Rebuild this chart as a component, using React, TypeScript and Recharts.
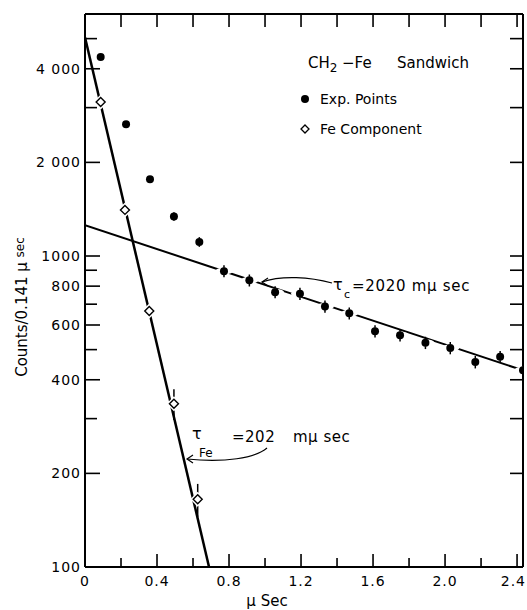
import React from 'react'
import { ComposedChart, Line, Scatter, XAxis, YAxis, ErrorBar } from 'recharts'

// experimental points (filled circles)
const expTime = [0.087, 0.228, 0.361, 0.494, 0.635, 0.772, 0.913, 1.056, 1.194, 1.333, 1.468, 1.611, 1.75, 1.891, 2.029, 2.168, 2.306, 2.433]
const expCounts = [4365, 2654, 1764, 1340, 1110, 894, 835, 765, 756, 688, 654, 573, 556, 526, 506, 456, 474, 429]
const expErr = [0, 50, 45, 42, 40, 40, 37, 34, 34, 31, 29, 26, 25, 24, 23, 21, 21, 19]

// Fe component (open diamonds)
const feTime = [0.087, 0.222, 0.357, 0.494, 0.626]
const feCounts = [3125, 1407, 665, 335, 165]
const feErr = [0, 0, 25, 38, 20]

// fitted lines
const feFitTime = [0, 0.689]
const feFitCounts = [5050, 100]
const cFitTime = [0, 2.433]
const cFitCounts = [1256, 429]

const xTicks = [0, 0.2, 0.4, 0.6, 0.8, 1.0, 1.2, 1.4, 1.6, 1.8, 2.0, 2.2, 2.4]
const xLabels = ['0', '', '0.4', '', '0.8', '', '1.2', '', '1.6', '', '2.0', '', '2.4']
const yTicks = [100, 200, 300, 400, 500, 600, 700, 800, 900, 1000, 2000, 3000, 4000, 5000]
const yLabels = ['100', '200', '', '400', '', '600', '', '800', '', '1000', '2 000', '', '4 000', '']

const W = 527
const H = 610
const LEFT = 85
const RIGHT = 523
const TOP = 14
const BOTTOM = 567
const FONT = '"DejaVu Sans", sans-serif'
const AX = { stroke: '#000', strokeWidth: 2 }
const TK = { stroke: '#000', strokeWidth: 1.6 }

const expData = expTime.map((x, i) => ({ x, y: expCounts[i], err: expErr[i] }))
const feData = feTime.map((x, i) => ({ x, y: feCounts[i], err: feErr[i] }))
const feFit = feFitTime.map((x, i) => ({ x, y: feFitCounts[i] }))
const cFit = cFitTime.map((x, i) => ({ x, y: cFitCounts[i] }))

// ticks point inward, labelled ones a little longer
const BottomTick = (p: any) => {
  const i = xTicks.indexOf(p.payload.value)
  const lab = xLabels[i]
  const last = i === xTicks.length - 1
  return (
    <g>
      {i > 0 && <line x1={p.x} x2={p.x} y1={BOTTOM} y2={BOTTOM - (lab ? 13 : 9)} {...TK} />}
      {lab && (
        <text x={last ? W - 1 : p.x} y={BOTTOM + 19} textAnchor={last ? 'end' : 'middle'} fontSize={14} letterSpacing={1} fill="#000" fontFamily={FONT}>
          {lab}
        </text>
      )}
    </g>
  )
}

const TopTick = (p: any) =>
  p.payload.value === 0 ? <g /> : <line x1={p.x} x2={p.x} y1={TOP} y2={TOP + 13} {...TK} />

const LeftTick = (p: any) => {
  const i = yTicks.indexOf(p.payload.value)
  const lab = yLabels[i]
  return (
    <g>
      {i > 0 && <line x1={LEFT} x2={LEFT + (lab ? 15 : 12)} y1={p.y} y2={p.y} {...TK} />}
      {lab && (
        <text x={81} y={p.y + 5} textAnchor="end" fontSize={14} letterSpacing={1} fill="#000" fontFamily={FONT}>
          {lab}
        </text>
      )}
    </g>
  )
}

const RightTick = (p: any) =>
  p.payload.value === 100 ? <g /> : <line x1={RIGHT} x2={RIGHT - 13} y1={p.y} y2={p.y} {...TK} />

const ExpDot = (p: any) => (
  <g>
    <ellipse cx={p.cx} cy={p.cy} rx={9} ry={3.5} fill="#fff" />
    <circle cx={p.cx} cy={p.cy} r={4} fill="#000" />
  </g>
)

const FeDot = (p: any) => {
  const d = 4.5
  const pts = (s: number) => `${p.cx},${p.cy - s} ${p.cx + s},${p.cy} ${p.cx},${p.cy + s} ${p.cx - s},${p.cy}`
  return (
    <g>
      <polygon points={pts(d + 3)} fill="#fff" />
      <polygon points={pts(d)} fill="#fff" stroke="#000" strokeWidth={1.4} />
    </g>
  )
}

function Notes() {
  const txt = { fontFamily: FONT, fill: '#000' }
  return (
    <svg width={W} height={H} style={{ position: 'absolute', left: 0, top: 0, pointerEvents: 'none' }}>
      <text x={308} y={68} fontSize={15} {...txt}>
        CH<tspan fontSize={12} dy={4}>2</tspan>
        <tspan x={342} dy={-4}>−Fe</tspan>
        <tspan x={397}>Sandwich</tspan>
      </text>
      <circle cx={305} cy={99} r={4} fill="#000" />
      <text x={320} y={104} fontSize={14} {...txt}>Exp. Points</text>
      <polygon points="305,125 309,129 305,133 301,129" fill="#fff" stroke="#000" strokeWidth={1.3} />
      <text x={320} y={134} fontSize={14} {...txt}>Fe Component</text>

      <text x={333} y={290} fontSize={16} {...txt}>τ</text>
      <text x={344} y={298} fontSize={11} {...txt}>c</text>
      <text x={352} y={291} fontSize={15} letterSpacing={0.7} {...txt}>=2020 mμ sec</text>
      <path d="M332,283 C310,277 282,275 262,282" fill="none" stroke="#000" strokeWidth={1.2} />
      <path d="M268,278 L262,282 L268,286" fill="none" stroke="#000" strokeWidth={1.2} />

      <text x={192} y={439} fontSize={16} {...txt}>τ</text>
      <text x={199} y={457} fontSize={12} {...txt}>Fe</text>
      <text x={232} y={442} fontSize={15} letterSpacing={0.5} {...txt}>
        =202<tspan x={293}>mμ sec</tspan>
      </text>
      <path d="M267,448 C255,458 225,463 187,459" fill="none" stroke="#000" strokeWidth={1.2} />
      <path d="M193,455 L187,459 L193,463" fill="none" stroke="#000" strokeWidth={1.2} />

      <text x={267} y={606} fontSize={15} textAnchor="middle" {...txt}>μ Sec</text>
      <text transform="translate(27,307) rotate(-90)" x={0} y={0} fontSize={15} textAnchor="middle" {...txt}>
        Counts/0.141<tspan> μ </tspan><tspan fontSize={12} dy={-3}>sec</tspan>
      </text>
    </svg>
  )
}

export default function App() {
  const xProps = { type: 'number' as const, dataKey: 'x', domain: [0, 2.433], allowDataOverflow: true, interval: 0 as const, ticks: xTicks, tickLine: false }
  const yProps = { type: 'number' as const, dataKey: 'y', scale: 'log' as const, domain: [100, 6000], allowDataOverflow: true, interval: 0 as const, ticks: yTicks, tickLine: false }
  return (
    <div style={{ position: 'absolute', left: 0, top: 0, width: W, height: H, background: '#fff', fontFamily: FONT }}>
      {/* top and right axes are 1px wide: a zero-size axis draws no ticks */}
      <ComposedChart width={W} height={H} margin={{ top: TOP - 1, right: W - RIGHT - 1, bottom: 0, left: 0 }}>
        <XAxis xAxisId="b" {...xProps} height={H - BOTTOM} tick={BottomTick} axisLine={AX} />
        <XAxis xAxisId="t" orientation="top" {...xProps} height={1} tick={TopTick} axisLine={AX} />
        <YAxis yAxisId="l" {...yProps} width={LEFT} tick={LeftTick} axisLine={AX} />
        <YAxis yAxisId="r" orientation="right" {...yProps} width={1} tick={RightTick} axisLine={AX} />
        <Line xAxisId="b" yAxisId="l" data={cFit} dataKey="y" type="linear" stroke="#000" strokeWidth={2} dot={false} isAnimationActive={false} />
        <Line xAxisId="b" yAxisId="l" data={feFit} dataKey="y" type="linear" stroke="#000" strokeWidth={2.5} dot={false} isAnimationActive={false} />
        <Scatter xAxisId="b" yAxisId="l" data={expData} dataKey="y" shape={ExpDot} isAnimationActive={false}>
          <ErrorBar dataKey="err" direction="y" width={0} stroke="#000" strokeWidth={1.5} />
        </Scatter>
        <Scatter xAxisId="b" yAxisId="l" data={feData} dataKey="y" shape={FeDot} isAnimationActive={false}>
          <ErrorBar dataKey="err" direction="y" width={0} stroke="#000" strokeWidth={1.5} />
        </Scatter>
      </ComposedChart>
      <Notes />
    </div>
  )
}
